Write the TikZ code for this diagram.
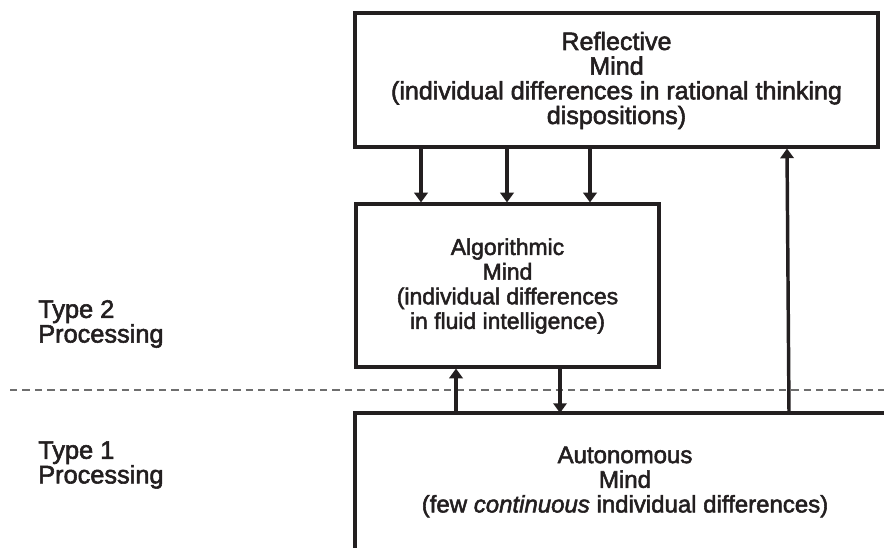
\documentclass[tikz,border=0pt]{standalone}
\usepackage{fontspec}
\setmainfont{Liberation Sans}[FakeBold=2.2]
\usetikzlibrary{arrows.meta}
\definecolor{ink}{HTML}{231F20}
\definecolor{dashgray}{HTML}{6E6E6E}
% text size with a fixed 25px line pitch
\newcommand{\mindfont}[1]{\fontsize{#1}{18.5pt}\selectfont\lineskiplimit=-30pt\lineskip=0pt}
\begin{document}
\begin{tikzpicture}[x=0.75pt,y=-0.75pt,
  mindbox/.style={draw=ink, line width=2.3pt, inner sep=0pt, align=center, text=ink},
  label/.style={inner sep=0pt, align=left, anchor=west, text=ink,
    font=\mindfont{19pt}},
  body/.style={inner sep=0pt, align=center, text=ink},
  arr/.style={draw=ink, line width=2.6pt,
    -{Triangle[length=7.3pt, width=10pt]}},
  arrthin/.style={arr, line width=2.4pt},
  arrthick/.style={arr, line width=3.2pt}]
  \useasboundingbox (0,0) rectangle (884,548);

  % Type 1 / Type 2 divider
  \draw[dashgray, line width=0.9pt, dash pattern=on 5.6pt off 3.7pt]
    (10,390) -- (884,390);

  % Reflective mind
  \node[mindbox, minimum width=392.25pt, minimum height=100.5pt] (refl) at (616.5,80) {};
  \node[body, font=\mindfont{18.8pt}] (refltext) at (616.5,80.5)
    {Reflective\\Mind\\(individual differences in rational thinking\\dispositions)};

  % Algorithmic mind
  \node[mindbox, minimum width=227.25pt, minimum height=122.25pt] (alg) at (507.5,285.5) {};
  \node[body, font=\mindfont{17.2pt}] (algtext) at (507.5,286)
    {Algorithmic\\Mind\\(individual differences\\in fluid intelligence)};

  % Autonomous mind: frame open to the right and bottom
  \node[inner sep=0pt, minimum width=396.75pt, minimum height=101.25pt,
        anchor=north west] (auto) at (355,413) {};
  \draw[ink, line width=2.3pt] (auto.south west) -- (auto.north west) -- (auto.north east);
  \node[body, font=\mindfont{18pt}] (autotext) at (625,482)
    {Autonomous\\Mind\\(few \textit{continuous} individual differences)};

  % Processing levels
  \node[label] (type2) at (38,324) {Type 2\\Processing};
  \node[label] (type1) at (38,465) {Type 1\\Processing};

  % Reflective -> Algorithmic
  \draw[arr]      (refl.south -| 421,0) -- (alg.north -| 421,0);
  \draw[arrthin]  (refl.south -| 507,0) -- (alg.north -| 507,0);
  \draw[arrthick] (refl.south -| 590,0) -- (alg.north -| 590,0);

  % Algorithmic <-> Autonomous
  \draw[arr]      (auto.north -| 456,0) -- (alg.south -| 456,0);
  \draw[arrthick] (alg.south -| 560,0) -- (auto.north -| 560,0);

  % Autonomous -> Reflective
  \draw[arr] (auto.north -| 789,0) -- (refl.south -| 787,0);
\end{tikzpicture}
\end{document}
